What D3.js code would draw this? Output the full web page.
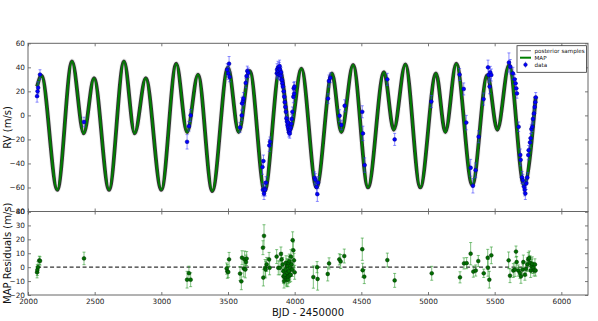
<!DOCTYPE html>
<html><head><meta charset="utf-8">
<script src="https://cdn.jsdelivr.net/npm/d3@7"></script>
<style>body{margin:0;background:#fff}svg{display:block}text{font-family:"DejaVu Sans",sans-serif}</style>
</head><body><svg id="c" width="598" height="321"></svg>
<script>
// ---- MAP model curve (extrema) ----
const modelDates = [2068,2101,2220,2330,2418,2495,2608,2720,2800,2883,3000,3112,3193,3275,3382,3500,3580,3663,3775,3888,3967,4050,4164,4280,4350,4438,4550,4670,4743,4830,4942,5060,5130,5212,5332,5445,5520,5608,5720,5808];
const modelRV    = [24,33,-62,45,-15,31,-62,45,-15,31,-62,43,-14,34,-63,40,-14,37,-63,38,-12,39,-60,35,-14,42,-60,36,-12,42.5,-60,35,-14,43,-58,33.5,-12,42,-58,15.5];

// ---- RV data ----
const rvDates = [2068,2072,2076,2090,2420,3193,3207,3220,3494,3502,3508,3512,3590,3603,3605,3612,3616,3633,3639,3645,3652,
 3758,3762,3766,3770,3775,3778,3785,3810,3815,
 3866,3868,3872,3875,3878,3880,3884,3887,3890,3892,3895,3898,3902,3905,3908,3912,3918,3922,3926,3930,3935,3938,3942,3946,3950,3952,3954,3957,3960,3963,3966,3970,3974,3978,3983,3990,3993,3996,3998,
 4150,4155,4164,4170,4175,4250,4257,4267,4337,4350,4375,4507,4512,4525,4695,4750,5025,
 5237,5268,5287,5320,5337,5357,5380,5417,5450,5455,5462,5467,5475,
 5607,5617,5637,5650,5657,5662,5667,5680,5692,5695,5705,5712,5720,5725,5730,5737,5745,5752,5755,5765,5770,5775,5782,5787,5795,5800,5805,5808];
const rvValues = [16,20,23,34,-5.5,-22,-9,0,38,35,43,32,-10,0,10,12,14,27,32.7,37,35.5,
 -43,-62,-38,-65,-61,-62,-56,-25,-22,
 35,38,36,40,37,34,39,41,38,35,33,36,30,29,26.7,24,20,15.5,11,7,3,-2.5,-5,-8,-10,-6,-12,-14,-13,-15,-12,-10,-7,-3,3,15.5,22.5,18,24,
 -52,-53.5,-59.5,-65.6,-56,14,28.6,31.3,-0.3,-8,8,3,-15,-41.4,30,-20,11.5,
 34,22,-6,-43.6,-58.6,-45.6,-17.8,13.6,40,33.6,24,35.8,33.6,
 44,40.5,35,30,26.7,22.5,18.3,-9.5,-33,-37,-51.7,-54,-59.5,-62,-65,-56.7,-51.7,-33,-29,-22.5,-19,-11.4,-9.5,-3,1.6,7,11,15];
const rvErr = [5,4,5,4,4,6,4,5,5,5,6,4,4,4,5,4,5,4,4,4,4,
 6,5,5,5,6,5,5,5,4,
 4,5,4,5,3,4,5,5,4,4,4,4,4,4,4,4,4,4,4,4,4,4,4,4,4,4,4,4,4,4,4,4,4,4,4,5,5,4,4,
 5,5,5,6,5,4,5,4,5,4,5,5,6,6,5,5,5,
 5,5,6,7,6,6,5,5,6,6,6,5,5,
 8,6,5,4,4,4,4,4,5,5,5,5,5,5,5,5,4,4,4,4,4,4,4,4,4,4,4,4];

// ---- MAP residuals ----
const resDates = [2068,2070,2075,2085,2090,2420,3193,3207,3220,3490,3495,3502,3508,3590,3600,3605,3618,3625,3630,3635,3640,
 3762,3765,3770,3778,3782,3790,3808,3812,
 3865,3877,3890,3897,3902,3910,3915,3916,3920,3925,3927,3932,3935,3938,3940,3942,3945,3947,3950,3952,3955,3957,3960,3962,3965,3970,3972,3977,3982,3985,3990,3995,4000,
 4140,4168,4172,4248,4258,4335,4345,4372,4507,4510,4522,4695,4750,5028,
 5240,5270,5290,5320,5340,5358,5377,5418,5448,5450,5460,5475,
 5605,5615,5640,5652,5660,5665,5677,5690,5697,5710,5715,5727,5735,5745,5752,5760,5765,5770,5777,5782,5790,5795,5802,5807];
const resValues = [-3.7,-2,0,4.9,4.5,6.3,-9,-4.3,-9,-1,-3,-3.5,5.6,-4.6,-10.2,6.8,-1,5.6,-1.7,3.7,6.2,
 14,-7.5,22.5,-0.5,-1.7,2,5.6,-0.5,
 7.6,-0.5,-0.5,9.5,5.6,2,-2.9,-6.6,-10,-7,-5.4,-1.7,3.2,-8,-9,1,-4.2,0.7,-9,-6.6,3,-3,4.4,-6,-0.5,-5.4,7.6,2,-1.7,19.4,12.1,4.9,-3.7,
 -7.1,0,-8.5,-4.9,2.7,5.6,4.1,8,12.9,-2.2,-6.8,5.1,-9.5,-4.4,
 -7.3,2.7,2.9,9.7,-3.2,-2.4,4.4,-4.4,6.8,-0.5,-9,8.5,
 4.9,-6.1,-2.4,-1.7,11.2,3.7,-2.4,-4.2,-6.6,-1.7,3.7,-5.4,-1.2,2,5.6,6.6,3.2,-2.4,0.7,2.4,-0.5,-2.4,2,-2.4];
const resErr = [4,4,4,3,3,4.5,6,5,5,4,5,4,5,5,6,5,6,6,6,5,5,
 5,6,8,6,6,5,5,5,
 5,5,5,5,5,5,5,5,5,5,5,5,5,5,5,5,5,5,5,5,5,5,5,5,5,5,5,5,5,6,6,5,5,
 8,4,8,5,4,4,5,5,8,5,5,5,5,5,
 4,4,4,8,4,4,4,3,6,6,6,6,
 6,5,5,5,4,4,4,4,5,4,5,4,5,5,5,5,5,5,5,5,4,4,4,4];

// ---- ticks ----
const xTicks = [2000,2500,3000,3500,4000,4500,5000,5500,6000];
const topTicks = [-80,-60,-40,-20,0,20,40,60];
const botTicks = [-20,-10,0,10,20,30,40];
const legendLabels = ["posterior samples","MAP","data"];

const svg = d3.select("#c");
const L = 28, R = 588, T1 = 43.3, B1 = 211.5, B2 = 295;
const x = d3.scaleLinear().domain([2000,6200]).range([L,R]);
const yT = d3.scaleLinear().domain([-80,60]).range([B1,T1]);
const yB = d3.scaleLinear().domain([-20,40]).range([B2,B1]);

const defs = svg.append("defs");
defs.append("clipPath").attr("id","cT").append("rect").attr("x",L).attr("y",T1).attr("width",R-L).attr("height",B1-T1);
defs.append("clipPath").attr("id","cB").append("rect").attr("x",L).attr("y",B1).attr("width",R-L).attr("height",B2-B1);

const model = modelDates.map((d,i)=>({d, v:modelRV[i]}));
const line = d3.line().x(p=>x(p.d)).y(p=>yT(p.v)).curve(d3.curveMonotoneX);

const gT = svg.append("g").attr("clip-path","url(#cT)");
// posterior-sample halo
gT.append("path").attr("d",line(model)).attr("fill","none").attr("stroke","#999").attr("stroke-width",5.5).attr("stroke-opacity",0.2);
gT.append("path").attr("d",line(model)).attr("fill","none").attr("stroke","#111").attr("stroke-width",3.8).attr("stroke-opacity",0.85);
gT.append("path").attr("d",line(model)).attr("fill","none").attr("stroke","#008000").attr("stroke-width",2);

function drawPoints(g, dates, vals, errs, ys, barColor, barOp, fill, edge){
  const data = dates.map((d,i)=>({d, v:vals[i], e:errs[i]}));
  const eb = g.append("g").attr("stroke",barColor).attr("stroke-opacity",barOp).attr("stroke-width",1);
  data.forEach(p=>{
    const cx = x(p.d), y1 = ys(p.v+p.e), y2 = ys(p.v-p.e);
    eb.append("line").attr("x1",cx).attr("x2",cx).attr("y1",y1).attr("y2",y2);
    eb.append("line").attr("x1",cx-1.5).attr("x2",cx+1.5).attr("y1",y1).attr("y2",y1);
    eb.append("line").attr("x1",cx-1.5).attr("x2",cx+1.5).attr("y1",y2).attr("y2",y2);
  });
  g.append("g").selectAll("circle").data(data).join("circle")
    .attr("cx",p=>x(p.d)).attr("cy",p=>ys(p.v)).attr("r",1.9)
    .attr("fill",fill).attr("stroke",edge).attr("stroke-width",0.5);
}
drawPoints(gT, rvDates, rvValues, rvErr, yT, "#3333ff", 0.55, "#0000ff", "#000080");

const gB = svg.append("g").attr("clip-path","url(#cB)");
gB.append("line").attr("x1",x(d3.min(resDates))).attr("x2",x(d3.max(resDates)))
  .attr("y1",yB(0)).attr("y2",yB(0)).attr("stroke","#333").attr("stroke-width",1.4).attr("stroke-dasharray","4,2.5");
drawPoints(gB, resDates, resValues, resErr, yB, "#2a9a2a", 0.6, "#006e00", "#003300");

// axes
function styleAxis(g){
  g.select(".domain").remove();
  g.selectAll(".tick line").attr("stroke","#555").attr("stroke-width",0.8);
  g.selectAll(".tick text").attr("fill","#222").style("font-size","7.3px").style("font-family","DejaVu Sans");
}
const tk = 3;
// top panel
svg.append("g").attr("transform",`translate(${L},0)`).call(d3.axisLeft(yT).tickValues(topTicks).tickSizeInner(-tk).tickSizeOuter(0).tickPadding(3)).call(styleAxis);
svg.append("g").attr("transform",`translate(${R},0)`).call(d3.axisRight(yT).tickValues(topTicks).tickSizeInner(-tk).tickSizeOuter(0).tickFormat("")).call(styleAxis);
svg.append("g").attr("transform",`translate(0,${T1})`).call(d3.axisTop(x).tickValues(xTicks).tickSizeInner(-tk).tickSizeOuter(0).tickFormat("")).call(styleAxis);
svg.append("g").attr("transform",`translate(0,${B1})`).call(d3.axisBottom(x).tickValues(xTicks).tickSizeInner(-tk).tickSizeOuter(0).tickFormat("")).call(styleAxis);
// bottom panel
svg.append("g").attr("transform",`translate(${L},0)`).call(d3.axisLeft(yB).tickValues(botTicks).tickSizeInner(-tk).tickSizeOuter(0).tickPadding(3)).call(styleAxis);
svg.append("g").attr("transform",`translate(${R},0)`).call(d3.axisRight(yB).tickValues(botTicks).tickSizeInner(-tk).tickSizeOuter(0).tickFormat("")).call(styleAxis);
svg.append("g").attr("transform",`translate(0,${B1})`).call(d3.axisTop(x).tickValues(xTicks).tickSizeInner(-tk).tickSizeOuter(0).tickFormat("")).call(styleAxis);
svg.append("g").attr("transform",`translate(0,${B2})`).call(d3.axisBottom(x).tickValues(xTicks).tickSizeInner(-tk).tickSizeOuter(0).tickPadding(4).tickFormat(d3.format("d"))).call(styleAxis);

// spines
svg.append("rect").attr("x",L).attr("y",T1).attr("width",R-L).attr("height",B1-T1).attr("fill","none").attr("stroke","#666").attr("stroke-width",1);
svg.append("rect").attr("x",L).attr("y",B1).attr("width",R-L).attr("height",B2-B1).attr("fill","none").attr("stroke","#666").attr("stroke-width",1);

// axis labels
svg.append("text").attr("transform",`translate(11,${(T1+B1)/2}) rotate(-90)`).attr("text-anchor","middle").style("font-size","10px").attr("fill","#111").text("RV (m/s)");
svg.append("text").attr("transform",`translate(11,${(B1+B2)/2}) rotate(-90)`).attr("text-anchor","middle").style("font-size","10px").attr("fill","#111").text("MAP Residuals (m/s)");
svg.append("text").attr("x",(L+R)/2).attr("y",315.5).attr("text-anchor","middle").style("font-size","10px").attr("fill","#111").text("BJD - 2450000");

// legend
const lg = svg.append("g");
lg.append("rect").attr("x",517).attr("y",45.7).attr("width",69.5).attr("height",26.6).attr("fill","#fff").attr("stroke","#333").attr("stroke-width",0.8);
const ly = [50.7,57.7,64.7];
lg.append("line").attr("x1",520).attr("x2",531).attr("y1",ly[0]).attr("y2",ly[0]).attr("stroke","#777").attr("stroke-width",1);
lg.append("line").attr("x1",520).attr("x2",531).attr("y1",ly[1]).attr("y2",ly[1]).attr("stroke","#008000").attr("stroke-width",2);
lg.append("line").attr("x1",525.5).attr("x2",525.5).attr("y1",ly[2]-3).attr("y2",ly[2]+3).attr("stroke","#3333ff").attr("stroke-opacity",0.6);
lg.append("circle").attr("cx",525.5).attr("cy",ly[2]).attr("r",1.8).attr("fill","#0000ff").attr("stroke","#000080").attr("stroke-width",0.5);
legendLabels.forEach((t,i)=>lg.append("text").attr("x",534.5).attr("y",ly[i]+2).style("font-size","5.6px").attr("fill","#111").text(t));
</script></body></html>
